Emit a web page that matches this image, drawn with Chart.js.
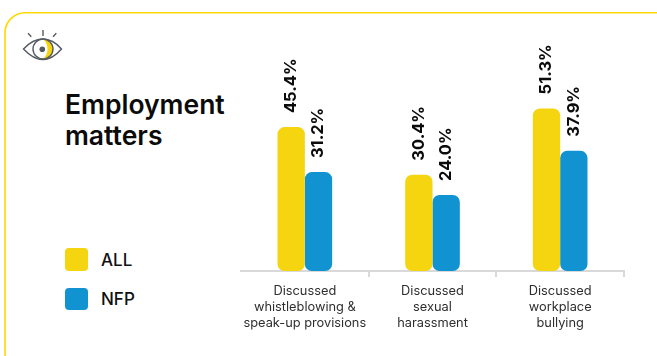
<!DOCTYPE html>
<html>
<head>
<meta charset="utf-8">
<script src="https://cdn.jsdelivr.net/npm/chart.js@4"></script>
<style>
  html, body { margin: 0; padding: 0; background: #fff; }
  #page { position: relative; width: 657px; height: 356px; overflow: hidden; font-family: Inter, "Noto Sans", sans-serif; }
  #card { position: absolute; left: 0; top: 0; }
  #eye { position: absolute; left: 20px; top: 29px; }
  #heading { position: absolute; left: 65px; top: 89px; font-size: 26.5px; line-height: 31px; font-weight: 600; color: #0b0b0b; }
  .key { position: absolute; left: 65px; width: 22.5px; height: 22.5px; border-radius: 4px; }
  .keytext { position: absolute; left: 101px; font-size: 17px; line-height: 20px; font-weight: 500; color: #111; }
  canvas { position: absolute; left: 0; top: 0; }
</style>
</head>
<body>
<div id="page">
  <svg id="card" width="657" height="356"><rect x="5" y="12.8" width="680" height="360" rx="20" fill="none" stroke="#FFD800" stroke-width="1.6"/></svg>
  <svg id="eye" width="44" height="36" viewBox="0 0 44 36" fill="none" stroke="#555A62" stroke-width="1.4">
    <path d="M3.5 20 C10 13 16 10 22.8 10 C29.5 10 35.5 13 41.5 20 C35.5 27 29.5 30.5 22.8 30.5 C16 30.5 10 27 3.5 20 Z"/>
    <path d="M23 10 A10 10 0 0 1 23 30 A13.3 13.3 0 0 0 23 10 Z" fill="#F5D410" stroke="none"/>
    <circle cx="23" cy="20" r="10"/>
    <circle cx="22.3" cy="20.3" r="2.8" fill="#555A62" stroke="none"/>
    <path d="M23 1 V7 M8 4.3 L11.3 7.7 M36.3 4.3 L33 7.7"/>
  </svg>
  <div id="heading">Employment<br>matters</div>
  <div class="key" id="key0" style="top:248px"></div>
  <div class="keytext" id="keytext0" style="top:250px"></div>
  <div class="key" id="key1" style="top:287.5px"></div>
  <div class="keytext" id="keytext1" style="top:289px"></div>
  <canvas id="chart" width="657" height="356"></canvas>
</div>
<script>
const categories = [
  ['Discussed', 'whistleblowing &', 'speak-up provisions'],
  ['Discussed', 'sexual', 'harassment'],
  ['Discussed', 'workplace', 'bullying']
];
const seriesNames = ['ALL', 'NFP'];
const allValues = [45.4, 30.4, 51.3];
const nfpValues = [31.2, 24.0, 37.9];
const seriesColors = ['#F5D410', '#1192D1'];

// Legend swatches and captions share the dataset colours and names.
seriesNames.forEach((name, i) => {
  document.getElementById('key' + i).style.background = seriesColors[i];
  document.getElementById('keytext' + i).textContent = name;
});

// Writes each bar's percentage vertically, just above the bar.
const verticalValueLabels = {
  id: 'verticalValueLabels',
  afterDatasetsDraw(chart) {
    const ctx = chart.ctx;
    chart.data.datasets.forEach((dataset, d) => {
      chart.getDatasetMeta(d).data.forEach((bar, i) => {
        ctx.save();
        ctx.translate(bar.x, bar.y - 14);
        ctx.rotate(-Math.PI / 2);
        ctx.font = '700 16.5px Inter, "Noto Sans", sans-serif';
        ctx.fillStyle = '#0b0b0b';
        ctx.textAlign = 'left';
        ctx.textBaseline = 'middle';
        ctx.fillText(dataset.data[i].toFixed(1) + '%', 0, 0);
        ctx.restore();
      });
    });
  }
};

new Chart(document.getElementById('chart'), {
  type: 'bar',
  data: {
    labels: categories,
    datasets: [
      { label: seriesNames[0], data: allValues, backgroundColor: seriesColors[0] },
      { label: seriesNames[1], data: nfpValues, backgroundColor: seriesColors[1] }
    ]
  },
  options: {
    responsive: false,
    animation: false,
    layout: { padding: { left: 241, right: 33, top: 17.4, bottom: 0 } },
    plugins: { legend: { display: false }, tooltip: { enabled: false } },
    datasets: {
      bar: {
        categoryPercentage: 0.428,
        barPercentage: 1,
        borderRadius: 7,
        borderSkipped: false
      }
    },
    scales: {
      y: { display: false, min: 0, max: 80 },
      x: {
        afterFit(scale) { scale.height = 85; },
        border: { color: '#D9D9D9', width: 2 },
        grid: {
          drawOnChartArea: false,
          tickLength: 6,
          lineWidth: 2,
          color: ctx => ctx.index === 0 ? 'rgba(0,0,0,0)' : '#D9D9D9'
        },
        ticks: {
          autoSkip: false,
          maxRotation: 0,
          padding: 6,
          color: '#2e2e2e',
          font: { family: 'Inter, "Noto Sans", sans-serif', size: 12.8, lineHeight: 1.25 }
        }
      }
    }
  },
  plugins: [verticalValueLabels]
});
</script>
</body>
</html>
